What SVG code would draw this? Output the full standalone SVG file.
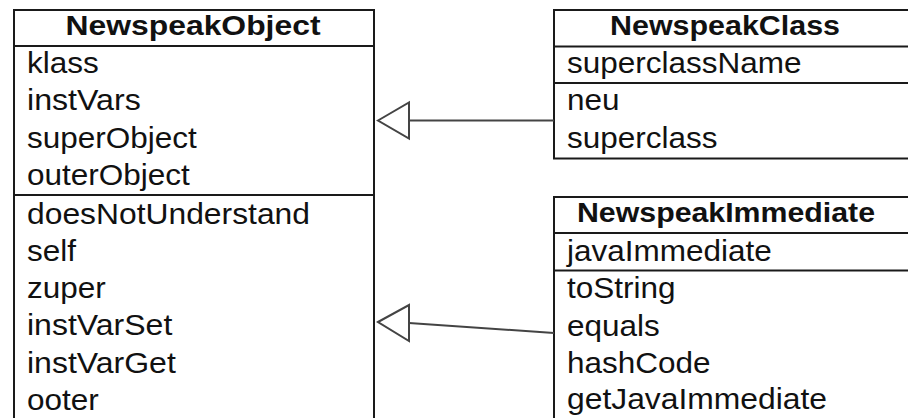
<svg xmlns="http://www.w3.org/2000/svg" width="908" height="418" viewBox="0 0 908 418">
<style>
.box{fill:#fff;stroke:#1a1a1a;stroke-width:2}
.div{stroke:#1a1a1a;stroke-width:2}
.t{font-family:"Liberation Sans",Arial,sans-serif;font-size:29px;fill:#111}
.h{font-family:"Liberation Sans",Arial,sans-serif;font-size:28px;font-weight:bold;fill:#111}
.conn{stroke:#444;stroke-width:2;fill:none}
.tri{fill:#fff;stroke:#444;stroke-width:2;stroke-linejoin:miter}
</style>
<rect x="0" y="0" width="908" height="418" fill="#fff"/>
<g id="NewspeakObject">
<rect class="box" x="14" y="10" width="360" height="430"/>
<line class="div" x1="14" y1="46" x2="374" y2="46"/>
<line class="div" x1="14" y1="195" x2="374" y2="195"/>
<text class="h" x="193" y="35" text-anchor="middle" textLength="255" lengthAdjust="spacingAndGlyphs">NewspeakObject</text>
<text class="t" x="27" y="73" textLength="71.8" lengthAdjust="spacingAndGlyphs">klass</text>
<text class="t" x="27" y="110.3" textLength="113.8" lengthAdjust="spacingAndGlyphs">instVars</text>
<text class="t" x="27" y="147.6" textLength="169.8" lengthAdjust="spacingAndGlyphs">superObject</text>
<text class="t" x="27" y="185" textLength="162.8" lengthAdjust="spacingAndGlyphs">outerObject</text>
<text class="t" x="27" y="223.5" textLength="283" lengthAdjust="spacingAndGlyphs">doesNotUnderstand</text>
<text class="t" x="27" y="260.8" textLength="49" lengthAdjust="spacingAndGlyphs">self</text>
<text class="t" x="27" y="298" textLength="78.8" lengthAdjust="spacingAndGlyphs">zuper</text>
<text class="t" x="27" y="335.4" textLength="145.3" lengthAdjust="spacingAndGlyphs">instVarSet</text>
<text class="t" x="27" y="372.7" textLength="148.8" lengthAdjust="spacingAndGlyphs">instVarGet</text>
<text class="t" x="27" y="410" textLength="71.8" lengthAdjust="spacingAndGlyphs">ooter</text>
</g>
<g id="NewspeakClass">
<rect class="box" x="554" y="10" width="370" height="148.5"/>
<line class="div" x1="554" y1="46.5" x2="924" y2="46.5"/>
<line class="div" x1="554" y1="83" x2="924" y2="83"/>
<text class="h" x="725" y="35" text-anchor="middle" textLength="230" lengthAdjust="spacingAndGlyphs">NewspeakClass</text>
<text class="t" x="567" y="73" textLength="234.5" lengthAdjust="spacingAndGlyphs">superclassName</text>
<text class="t" x="567" y="110" textLength="52.5" lengthAdjust="spacingAndGlyphs">neu</text>
<text class="t" x="567" y="147.6" textLength="150.5" lengthAdjust="spacingAndGlyphs">superclass</text>
</g>
<g id="NewspeakImmediate">
<rect class="box" x="554" y="197" width="370" height="240"/>
<line class="div" x1="554" y1="233" x2="924" y2="233"/>
<line class="div" x1="554" y1="270.5" x2="924" y2="270.5"/>
<text class="h" x="726" y="222" text-anchor="middle" textLength="298" lengthAdjust="spacingAndGlyphs">NewspeakImmediate</text>
<text class="t" x="567" y="261" textLength="204.8" lengthAdjust="spacingAndGlyphs">javaImmediate</text>
<text class="t" x="567" y="298.3" textLength="108.5" lengthAdjust="spacingAndGlyphs">toString</text>
<text class="t" x="567" y="335.7" textLength="92.8" lengthAdjust="spacingAndGlyphs">equals</text>
<text class="t" x="567" y="372.7" textLength="143.6" lengthAdjust="spacingAndGlyphs">hashCode</text>
<text class="t" x="567" y="409" textLength="260" lengthAdjust="spacingAndGlyphs">getJavaImmediate</text>
</g>
<g id="connectors">
<line class="conn" x1="409" y1="120.5" x2="554" y2="120.5"/>
<polygon class="tri" points="378,120.5 409,102.5 409,138.5"/>
<line class="conn" x1="409" y1="323" x2="554" y2="333"/>
<polygon class="tri" points="378,322 409,305 409,341"/>
</g>
</svg>
